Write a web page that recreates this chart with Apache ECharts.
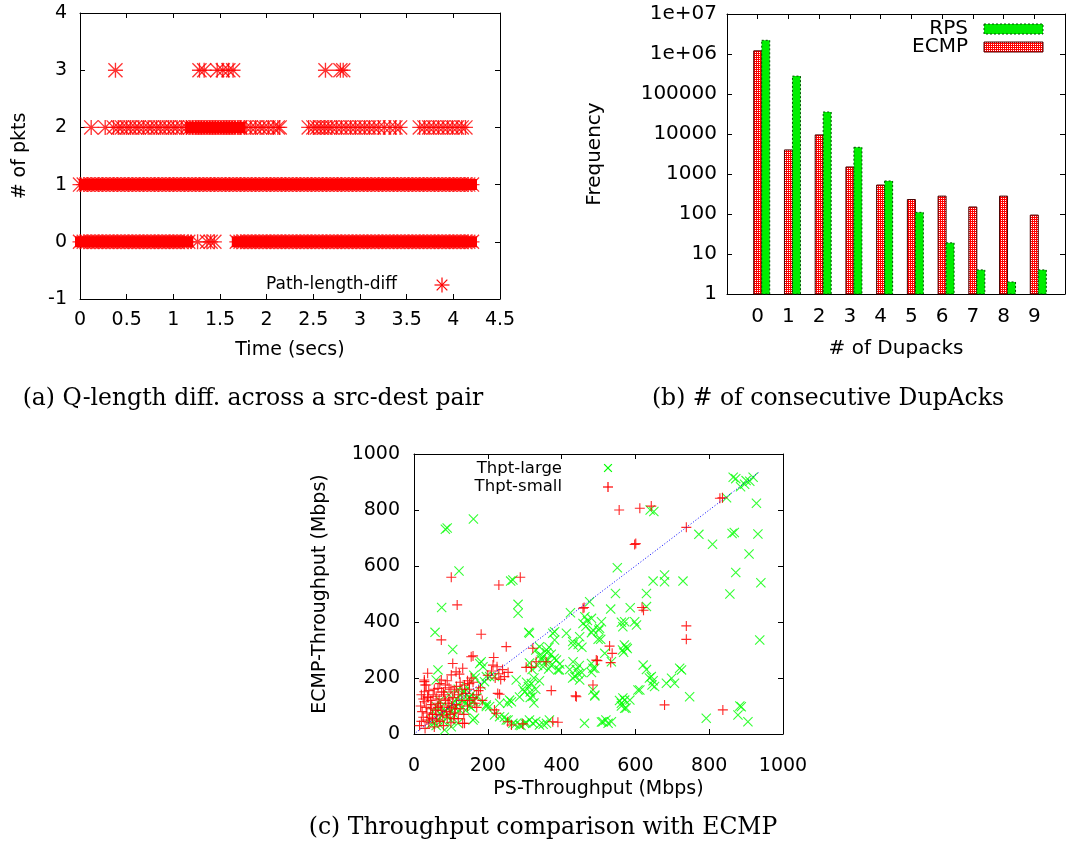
<!DOCTYPE html>
<html><head><meta charset="utf-8">
<script src="https://cdn.jsdelivr.net/npm/echarts@6/dist/echarts.min.js"></script>
<style>html,body{margin:0;padding:0;background:#fff}#chart{width:1068px;height:854px}</style>
</head><body><div id="chart"></div>
<script>
// ---------- (a) Q-length diff: time (s) of samples at each diff level ----------
const pktRow0Times = [0.00,0.04,0.08,0.12,0.16,0.20,0.24,0.28,0.32,0.36,0.40,0.44,0.48,0.52,0.56,0.60,0.64,0.68,0.72,0.76,0.80,0.84,0.88,0.92,0.96,1.00,1.04,1.08,1.12,1.16,
 1.26,1.36,1.40,1.44,
 1.68,1.72,1.76,1.80,1.84,1.88,1.92,1.96,2.00,2.04,2.08,2.12,2.16,2.20,2.24,2.28,2.32,2.36,2.40,2.44,2.48,2.52,2.56,2.60,2.64,2.68,2.72,2.76,2.80,2.84,2.88,2.92,2.96,3.00,3.04,3.08,3.12,3.16,3.20,3.24,3.28,3.32,3.36,3.40,3.44,3.48,3.52,3.56,3.60,3.64,3.68,3.72,3.76,3.80,3.84,3.88,3.92,3.96,4.00,4.04,4.08,4.12,4.16,4.20];
const pktRow1Times = [0.00,0.04,0.08,0.12,0.16,0.20,0.24,0.28,0.32,0.36,0.40,0.44,0.48,0.52,0.56,0.60,0.64,0.68,0.72,0.76,0.80,0.84,0.88,0.92,0.96,1.00,1.04,1.08,1.12,1.16,1.20,1.24,1.28,1.32,1.36,1.40,1.44,1.48,1.52,1.56,1.60,1.64,1.68,1.72,1.76,1.80,1.84,1.88,1.92,1.96,2.00,2.04,2.08,2.12,2.16,2.20,2.24,2.28,2.32,2.36,2.40,2.44,2.48,2.52,2.56,2.60,2.64,2.68,2.72,2.76,2.80,2.84,2.88,2.92,2.96,3.00,3.04,3.08,3.12,3.16,3.20,3.24,3.28,3.32,3.36,3.40,3.44,3.48,3.52,3.56,3.60,3.64,3.68,3.72,3.76,3.80,3.84,3.88,3.92,3.96,4.00,4.04,4.08,4.12,4.16,4.20];
const pktRow2Times = [0.12,0.27,0.36,0.41,0.45,0.50,0.54,0.59,0.63,0.68,0.73,0.77,0.82,0.86,0.91,0.95,1.00,1.04,1.09,1.14,
 1.18,1.21,1.24,1.27,1.30,1.33,1.36,1.39,1.42,1.45,1.48,1.51,1.54,1.57,1.60,1.63,1.66,1.69,1.72,
 1.78,1.83,1.88,1.93,1.97,2.02,2.07,2.12,2.14,
 2.45,2.50,2.54,2.58,2.62,2.66,2.70,2.75,2.80,2.85,2.90,2.95,3.00,3.05,3.10,3.15,3.20,3.26,3.32,3.38,3.43,
 3.64,3.69,3.74,3.79,3.84,3.89,3.94,3.99,4.04,4.09,4.13];
const pktRow3Times = [0.38,1.28,1.33,1.47,1.53,1.59,1.64,2.63,2.79,2.82];
const pktLevels = [0,1,2,3];
// time spans where samples are so dense that they merge into a solid band: [start, end, level]
const pktDenseRuns = [[0.00,1.16,0],[1.68,4.20,0],[0.04,4.20,1],[1.18,1.72,2]];

// ---------- (b) consecutive DupAcks ----------
const dupacks = [0,1,2,3,4,5,6,7,8,9];
const rpsFreq  = [2200000, 280000, 35500, 4650, 670, 110, 19, 4, 2, 4];
const ecmpFreq = [1200000, 4000, 9500, 1500, 530, 230, 280, 150, 280, 94];
const freqTickLabels = ['1','10','100','1000','10000','100000','1e+06','1e+07'];

// ---------- (c) throughput: [PS, ECMP] Mbps ----------
const thptLarge = [[85,731],[90,736],[161,768],[122,582],[75,452],[262,546],[268,550],[282,463],[282,431],
[640,800],[650,795],[865,917],[872,912],[885,883],[896,892],[919,917],[910,903],[900,905],[847,844],[928,824],[772,713],[809,678],[862,716],[868,720],[932,714],[908,643],[872,577],[940,540],[856,500],
[551,594],[546,502],[648,546],[679,568],[679,544],[729,546],[630,502],[533,446],[586,451],[630,455],[476,472],[424,433],[463,419],[481,413],[571,401],[598,401],
[937,336],[566,383],[603,389],[381,365],[413,360],[431,318],[449,347],[485,371],[501,371],[506,338],[565,300],[575,310],[570,318],[568,292],[578,305],[517,288],
[372,285],[380,270],[395,250],[386,264],[390,229],[431,258],[440,230],[449,193],[436,205],[445,215],[481,252],[485,235],[535,258],
[621,246],[630,230],[643,205],[648,190],[638,200],[652,170],[645,175],[612,157],[585,121],[571,121],[562,110],[571,92],
[684,181],[698,199],[720,235],[725,229],[706,181],[490,139],[485,157],[747,133],[792,56],[883,100],[887,97],[878,68],[905,44],
[462,38],[512,44],[526,38],[535,44],[367,50],[359,38],
[57,363],[105,302],[311,363],[65,229],[60,193],[182,258],[142,169],[137,151],[150,130],[155,140],[160,120],[145,125],[232,110],[196,98],[254,110],[160,50],[232,62],[250,50],[268,38],[286,32],[322,38],[340,32],[313,50],
[313,254],[320,230],[325,200],[318,180],[315,150],[322,135],[330,160],[340,190],[335,245],[277,193],[259,121],[196,205],[191,187],[182,175],
[376,360],[381,336],[340,312],[359,300],[363,264],[349,276],[350,240],[365,232],[372,245],
[178,252],[187,240],[162,210],[166,200],[205,205],[218,205],[264,115],[218,68],[164,56],[245,60],[255,50],[275,35],[290,30],[300,38],
[286,132],[300,150],[310,170],[305,185],[295,160],[187,115],[196,104],[205,98],
[65,50],[75,65],[85,80],[95,95],[105,110],[115,125],[125,140],[135,150],[70,75],[90,60],[100,80],[110,95],[120,105],[130,120],[140,110],[150,100],[160,115],[170,130],[55,40],[80,45],[100,50],[110,70],[125,85],[140,85],[155,95],[51,80],[60,98],[101,26],[119,38],[83,14],[60,30],[45,35],[70,120],[95,140],[120,160],[75,100],
[458,395],[470,405],[466,385],[503,378],[508,401],[562,399],[313,360],[430,330],[445,320],[455,310],[499,338],[481,362],[330,300],[340,280],[345,265],[360,290],[355,257],[366,310],[394,229],[422,230],[430,200],[455,220],[448,245],[481,220],[490,235],[557,120],[562,100],[575,93],[566,129],[607,157],[490,136],[315,130],[325,111],[304,40],[330,45],[350,35],[508,43],[520,50]];
const thptSmall = [[101,560],[117,461],[230,532],[288,560],[556,800],[612,806],[643,814],[738,738],[829,842],[836,844],[598,677],[601,680],[461,452],[458,449],[618,452],[622,442],[738,386],[738,338],[530,314],[537,288],[533,255],[494,264],[497,262],[485,175],[358,258],[331,258],[372,155],[438,136],[440,133],[679,104],[837,86],[376,44],[390,42],[322,306],[304,238],[318,238],[295,36],
[74,336],[182,356],[250,312],[155,276],[160,279],[216,273],[105,252],[132,235],[114,222],[101,211],[123,214],[28,193],[33,175],[37,217],[74,193],[65,163],[214,246],[200,210],[210,225],[220,200],[230,215],[240,230],[245,205],[255,220],[225,240],[235,195],[232,142],[227,145],[132,38],[137,38],[218,86],[223,74],[254,44],[264,32],[28,187],[30,175],[28,151],[37,133],
[70,180],[85,175],[95,165],[80,150],[100,160],[115,170],[125,185],[90,190],[137,175],[145,190],[155,200],[150,180],[160,185],
[15,30],[20,45],[25,60],[30,20],[35,75],[40,40],[45,90],[50,55],[55,25],[60,70],[65,110],[70,45],[75,85],[80,30],[85,120],[90,60],[95,95],[100,40],[105,130],[110,75],[115,105],[120,55],[125,90],[130,120],[18,100],[22,80],[28,115],[33,95],[38,130],[42,60],[48,105],[52,140],[58,85],[62,50],[68,125],[72,100],[78,65],[82,140],[88,80],[92,110],[98,70],[102,100],[108,55],[112,90],[20,140],[25,125],[45,120],[60,135],[35,50],[50,70],[65,95],[140,145],[150,120],[160,130],[170,140],[175,155],[180,165],[185,120],[165,110],[145,100],[135,70],[150,160],[120,140],[170,95],[130,160],[110,150],[95,125],[75,150],[40,155],[55,160]];
const diagLine = [[5,5],[935,935]];

// ---------- rendering ----------
const SANS = 'DejaVu Sans', SERIF = 'DejaVu Serif';
const ASTER = 'M0,9.1L20,9.1L20,10.9L0,10.9Z M9.1,0L10.9,0L10.9,20L9.1,20Z M1.25,0L20,18.75L18.75,20L0,1.25Z M18.75,0L20,1.25L1.25,20L0,18.75Z';
const PLUS = 'M0,8.9L20,8.9L20,11.1L0,11.1Z M8.9,0L11.1,0L11.1,20L8.9,20Z';
const CROSS = 'M1.55,0L20,18.45L18.45,20L0,1.55Z M18.45,0L20,1.55L1.55,20L0,18.45Z';

const pc = document.createElement('canvas'); pc.width = 2; pc.height = 2;
const pg = pc.getContext('2d'); pg.fillStyle = '#ff0000'; pg.fillRect(0,0,2,2);
pg.fillStyle = '#ffffff'; pg.fillRect(1,0,1,1);
const ecmpPattern = {image: pc, repeat: 'repeat'};
const ecmpStyle = {fill: ecmpPattern, stroke: '#4a0000', lineWidth: 1};
const rpsStyle = {fill: '#00ee00', stroke: '#005000', lineWidth: 1, lineDash: [2, 2]};

const pktData = [];
[pktRow0Times, pktRow1Times, pktRow2Times, pktRow3Times].forEach((ts, i) => ts.forEach(t => pktData.push([t, pktLevels[i]])));

function ax(o) {
  return Object.assign({
    axisLine: {show: true, onZero: false, lineStyle: {color: '#000', width: 1}},
    axisTick: {show: true, inside: true, length: 5, lineStyle: {color: '#000'}},
    axisLabel: {color: '#000', fontFamily: SANS, fontSize: 19},
    splitLine: {show: false},
    nameTextStyle: {color: '#000', fontFamily: SANS, fontSize: 19},
    nameLocation: 'middle'
  }, o);
}
function mirror(o) {
  return ax(Object.assign({axisLabel: {show: false}}, o));
}
function barItem(offset, style) {
  return function (params, api) {
    const x = api.value(0), v = api.value(1);
    const p = api.coord([x, v]), b = api.coord([x, 1]);
    return {type: 'rect', shape: {x: p[0] + offset, y: p[1], width: 8, height: b[1] - p[1]}, style: style};
  };
}
function runItem(params, api) {
  const a = api.coord([api.value(0), api.value(2)]), b = api.coord([api.value(1), api.value(2)]);
  return {type: 'rect', shape: {x: a[0] - 5, y: a[1] - 5.5, width: b[0] - a[0] + 10, height: 11}, style: {fill: '#ff0000'}};
}
function legendText(text, x, y, size) {
  return {type: 'text', x: x, y: y, style: {text: text, fill: '#000', font: size + 'px "' + SANS + '"', textAlign: 'right', textVerticalAlign: 'middle'}};
}
// legend key drawn as stroked segments (angles in degrees)
function legendMark(angles, cx, cy, s, color) {
  const r = s / 2;
  return {type: 'group', children: angles.map(a => {
    const c = Math.cos(a * Math.PI / 180) * r, d = Math.sin(a * Math.PI / 180) * r;
    return {type: 'line', shape: {x1: cx - c, y1: cy - d, x2: cx + c, y2: cy + d}, style: {stroke: color, lineWidth: 1.2}};
  })};
}
function caption(text, cx, cy) {
  return {type: 'text', x: cx, y: cy, style: {text: text, fill: '#000', font: '23.5px "' + SERIF + '"', textAlign: 'center', textVerticalAlign: 'middle'}};
}
const plain = v => String(v);

const chart = echarts.init(document.getElementById('chart'), null, {renderer: 'canvas'});
chart.setOption({
  animation: false,
  backgroundColor: '#fff',
  grid: [
    {left: 80, top: 13, width: 420, height: 286},
    {left: 727, top: 14, width: 341, height: 280},
    {left: 414, top: 454, width: 369, height: 280}
  ],
  xAxis: [
    ax({gridIndex: 0, type: 'value', min: 0, max: 4.5, interval: 0.5, position: 'bottom', name: 'Time (secs)', nameGap: 42, axisLabel: {color: '#000', fontFamily: SANS, fontSize: 19, margin: 12, formatter: plain}}),
    mirror({gridIndex: 0, type: 'value', min: 0, max: 4.5, interval: 0.5, position: 'top'}),
    ax({gridIndex: 1, type: 'value', min: -1, max: 10, interval: 1, position: 'bottom', name: '# of Dupacks', nameGap: 45,
      nameTextStyle: {color: '#000', fontFamily: SANS, fontSize: 20},
      axisTick: {show: false},
      axisLabel: {color: '#000', fontFamily: SANS, fontSize: 20, margin: 13, formatter: v => (dupacks.indexOf(v) >= 0 ? String(v) : '')}}),
    mirror({gridIndex: 1, type: 'value', min: -1, max: 10, interval: 1, position: 'top'}),
    ax({gridIndex: 2, type: 'value', min: 0, max: 1000, interval: 200, position: 'bottom', name: 'PS-Throughput (Mbps)', nameGap: 46, axisLabel: {color: '#000', fontFamily: SANS, fontSize: 19, margin: 23, formatter: plain}}),
    mirror({gridIndex: 2, type: 'value', min: 0, max: 1000, interval: 200, position: 'top'})
  ],
  yAxis: [
    ax({gridIndex: 0, type: 'value', min: -1, max: 4, interval: 1, position: 'left', name: '# of pkts', nameGap: 50, axisLabel: {color: '#000', fontFamily: SANS, fontSize: 19, margin: 13, formatter: plain}}),
    mirror({gridIndex: 0, type: 'value', min: -1, max: 4, interval: 1, position: 'right'}),
    ax({gridIndex: 1, type: 'log', logBase: 10, min: 1, max: 1e7, splitNumber: 7, position: 'left', name: 'Frequency', nameGap: 122,
      nameTextStyle: {color: '#000', fontFamily: SANS, fontSize: 20},
      axisLabel: {color: '#000', fontFamily: SANS, fontSize: 20, margin: 10, formatter: v => freqTickLabels[Math.round(Math.log10(v))]}}),
    mirror({gridIndex: 1, type: 'log', logBase: 10, min: 1, max: 1e7, splitNumber: 7, position: 'right'}),
    ax({gridIndex: 2, type: 'value', min: 0, max: 1000, interval: 200, position: 'left', name: 'ECMP-Throughput (Mbps)', nameGap: 84, axisLabel: {color: '#000', fontFamily: SANS, fontSize: 19, margin: 14, formatter: plain}}),
    mirror({gridIndex: 2, type: 'value', min: 0, max: 1000, interval: 200, position: 'right'})
  ],
  series: [
    {type: 'custom', xAxisIndex: 0, yAxisIndex: 0, clip: false, data: pktDenseRuns, encode: {x: [0, 1], y: 2}, renderItem: runItem, z: 1},
    {type: 'scatter', name: 'Path-length-diff', xAxisIndex: 0, yAxisIndex: 0, clip: false, data: pktData,
      symbol: 'path://' + ASTER, symbolSize: 15, itemStyle: {color: '#ff0000'}, z: 2},
    {type: 'custom', name: 'ECMP', xAxisIndex: 2, yAxisIndex: 2, data: dupacks.map((d, i) => [d, ecmpFreq[i]]),
      renderItem: barItem(-4, ecmpStyle)},
    {type: 'custom', name: 'RPS', xAxisIndex: 2, yAxisIndex: 2, data: dupacks.map((d, i) => [d, rpsFreq[i]]),
      renderItem: barItem(4, rpsStyle)},
    {type: 'scatter', name: 'Thpt-large', xAxisIndex: 4, yAxisIndex: 4, data: thptLarge,
      symbol: 'path://' + CROSS, symbolSize: 10, itemStyle: {color: '#00ff00'}},
    {type: 'scatter', name: 'Thpt-small', xAxisIndex: 4, yAxisIndex: 4, data: thptSmall,
      symbol: 'path://' + PLUS, symbolSize: 10, itemStyle: {color: '#ff0000', opacity: 0.85}},
    {type: 'line', xAxisIndex: 4, yAxisIndex: 4, data: diagLine, symbol: 'none',
      lineStyle: {color: '#0000ff', width: 1, type: [1, 2]}}
  ],
  graphic: [
    legendText('Path-length-diff', 397, 285, 17),
    legendMark([0, 45, 90, 135], 442, 285, 15, '#ff0000'),
    legendText('RPS', 968, 29, 20),
    {type: 'rect', shape: {x: 984, y: 24, width: 59, height: 10}, style: rpsStyle},
    legendText('ECMP', 968, 47, 20),
    {type: 'rect', shape: {x: 984, y: 42, width: 59, height: 10}, style: ecmpStyle},
    legendText('Thpt-large', 562, 469, 16.5),
    legendMark([45, 135], 608, 468, 11, '#00ff00'),
    legendText('Thpt-small', 562, 487, 16.5),
    legendMark([0, 90], 608, 487, 10, '#ff0000'),
    caption('(a) Q-length diff. across a src-dest pair', 253, 399),
    caption('(b) # of consecutive DupAcks', 828, 399),
    caption('(c) Throughput comparison with ECMP', 543, 828)
  ]
});
</script></body></html>
